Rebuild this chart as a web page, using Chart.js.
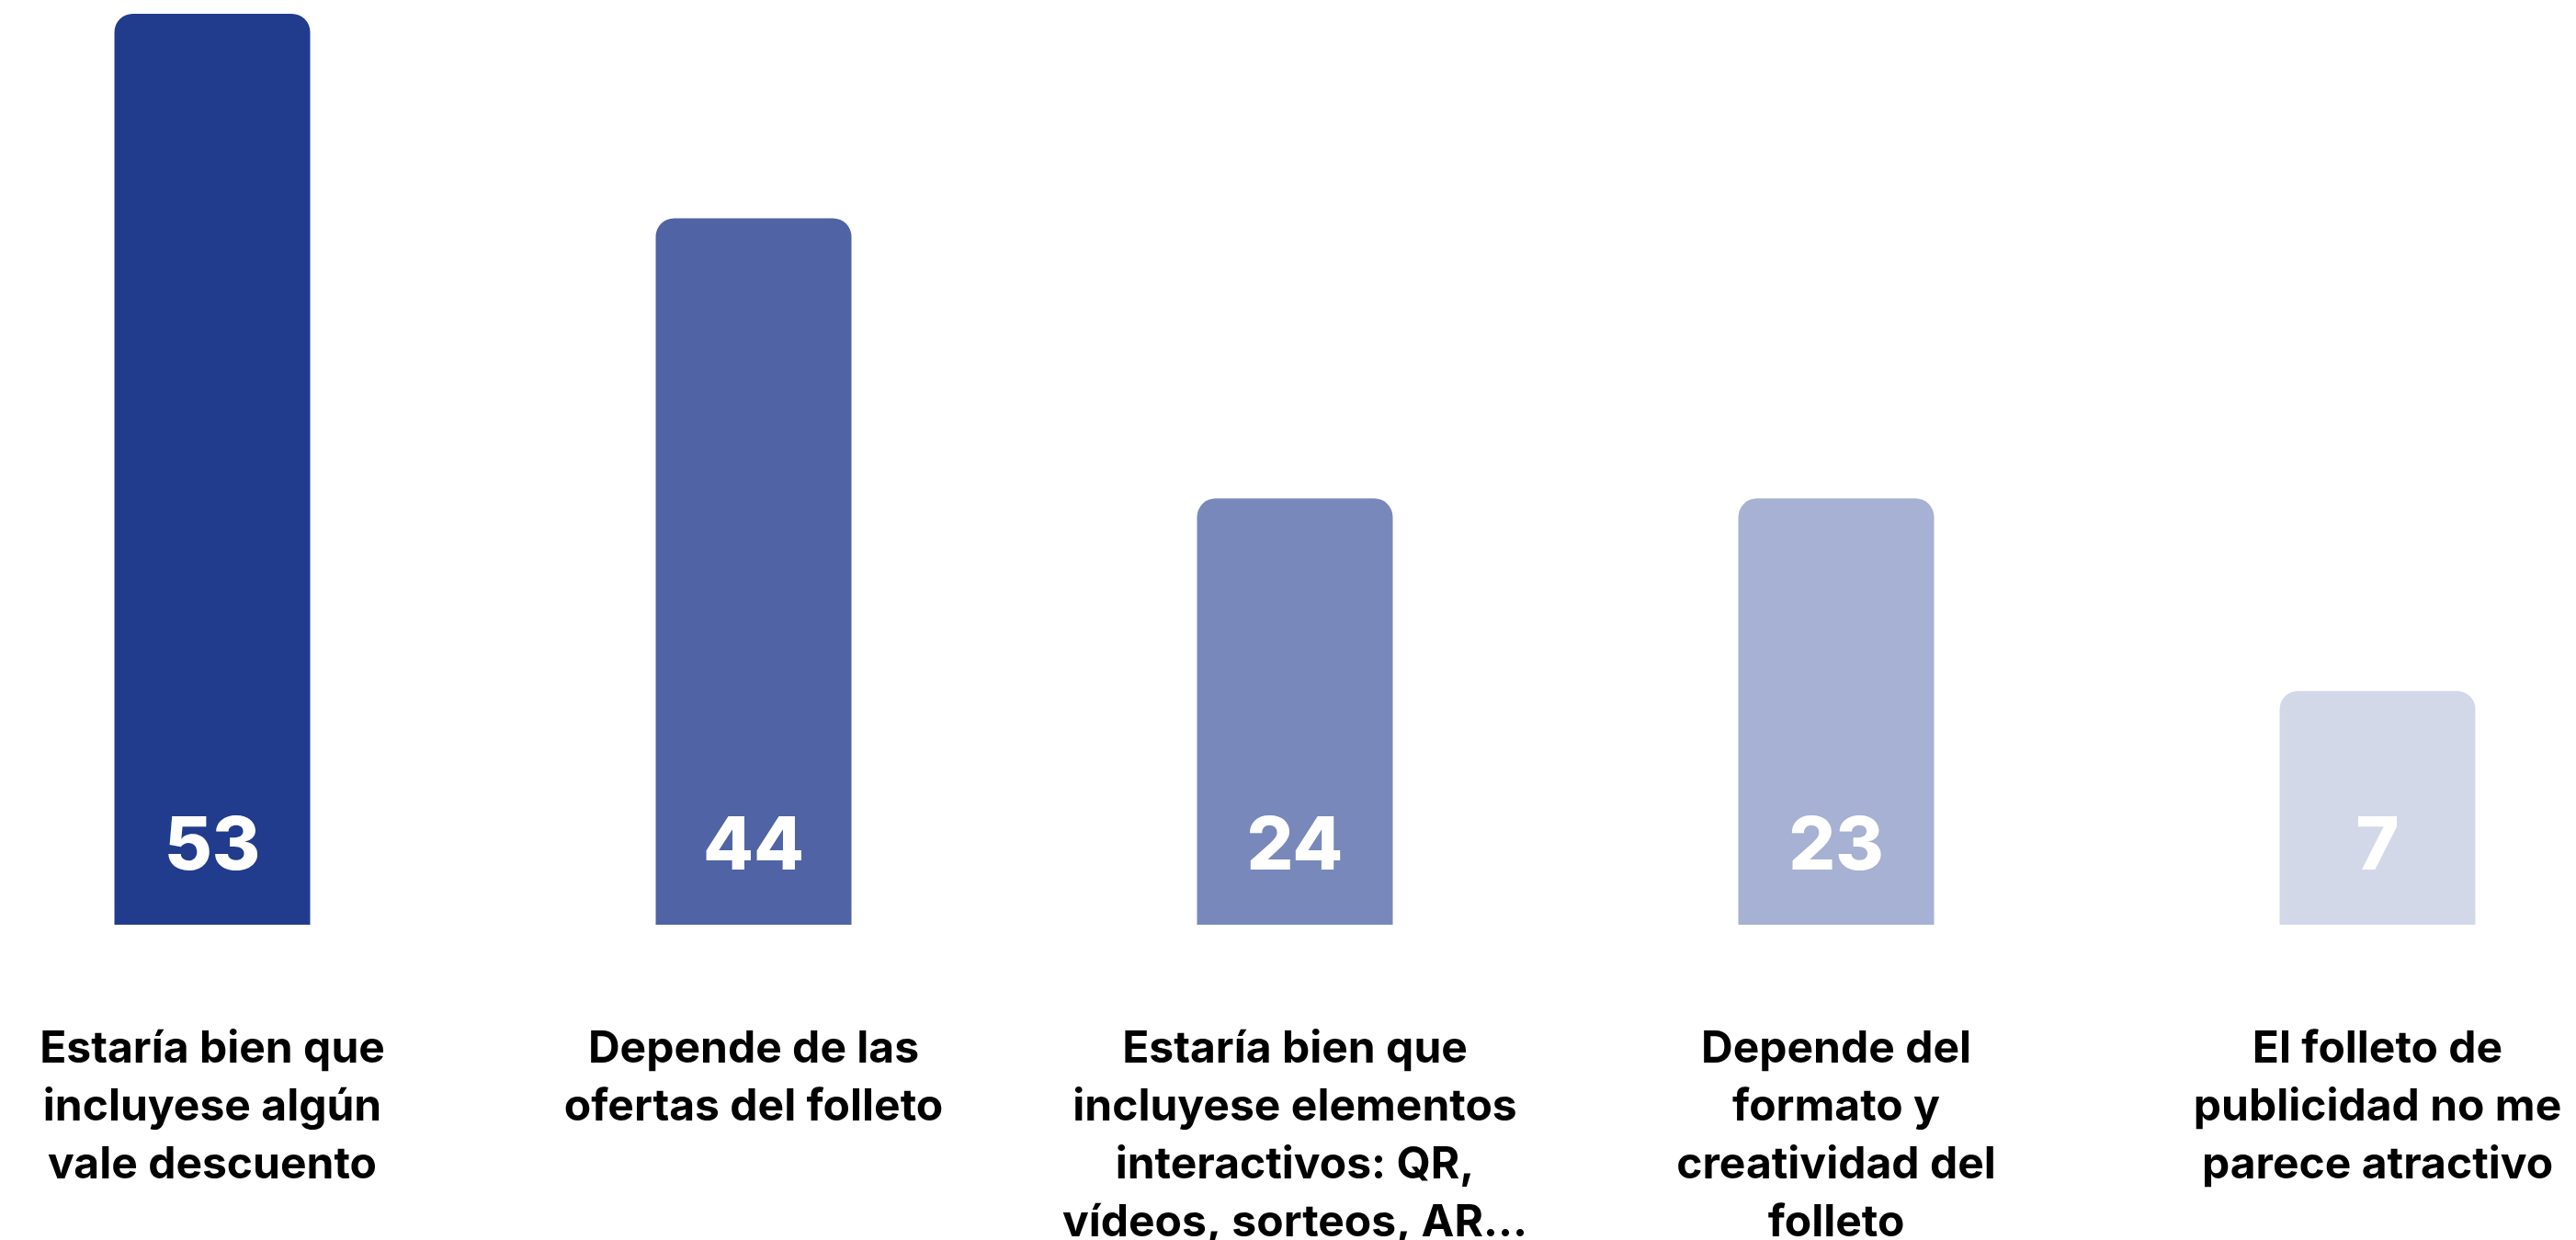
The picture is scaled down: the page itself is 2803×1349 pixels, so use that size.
<!DOCTYPE html>
<html>
<head>
<meta charset="utf-8">
<script src="https://cdn.jsdelivr.net/npm/chart.js@4"></script>
<style>
  body { margin: 0; background: #ffffff; }
  canvas { display: block; }
</style>
</head>
<body>
<canvas id="chart" width="2803" height="1349"></canvas>
<script>
// Categories (line breaks as in the picture)
const categories = [
    ['Estaría bien que', 'incluyese algún', 'vale descuento'],
    ['Depende de las', 'ofertas del folleto'],
    ['Estaría bien que', 'incluyese elementos', 'interactivos: QR,', 'vídeos, sorteos, AR…'],
    ['Depende del', 'formato y', 'creatividad del', 'folleto'],
    ['El folleto de', 'publicidad no me', 'parece atractivo']
];

// Printed values on the bars
const printedValues = [53, 44, 24, 23, 7];

// Bar lengths as drawn in the picture (same units, bar 1 = 53)
const barLengths = [53, 41.1, 24.8, 24.8, 13.6];

const barColors = ['#223c8d', '#4f63a5', '#7888bb', '#a6b1d3', '#d3d8e9'];

const valueLabels = {
    id: 'valueLabels',
    afterDatasetsDraw(chart) {
        const ctx = chart.ctx;
        const meta = chart.getDatasetMeta(0);
        ctx.save();
        ctx.fillStyle = '#ffffff';
        ctx.font = '800 80px Inter';
        ctx.textAlign = 'center';
        ctx.textBaseline = 'middle';
        meta.data.forEach((bar, i) => {
            ctx.fillText(String(printedValues[i]), bar.x, bar.base - 84);
        });
        ctx.restore();
    }
};

const ctx = document.getElementById('chart').getContext('2d');
new Chart(ctx, {
    type: 'bar',
    data: {
        labels: categories,
        datasets: [{
            data: barLengths,
            backgroundColor: barColors,
            borderRadius: { topLeft: 20, topRight: 20 },
            borderSkipped: 'bottom',
            categoryPercentage: 1,
            barPercentage: 0.3616,
            clip: false
        }]
    },
    options: {
        responsive: false,
        animation: false,
        layout: {
            padding: { left: 231, right: 216, top: 15, bottom: 0 }
        },
        plugins: {
            legend: { display: false },
            tooltip: { enabled: false }
        },
        scales: {
            x: {
                offset: false,
                grid: { display: false, drawTicks: false },
                border: { display: false },
                ticks: {
                    autoSkip: false,
                    maxRotation: 0,
                    minRotation: 0,
                    padding: 104,
                    color: '#000000',
                    font: { family: 'Inter', weight: '700', size: 48, lineHeight: '63px' }
                },
                afterFit(scale) {
                    scale.height = 343;
                    scale.paddingLeft = 0;
                    scale.paddingRight = 0;
                }
            },
            y: {
                display: false,
                min: 0,
                max: 53
            }
        }
    },
    plugins: [valueLabels]
});
</script>
</body>
</html>
